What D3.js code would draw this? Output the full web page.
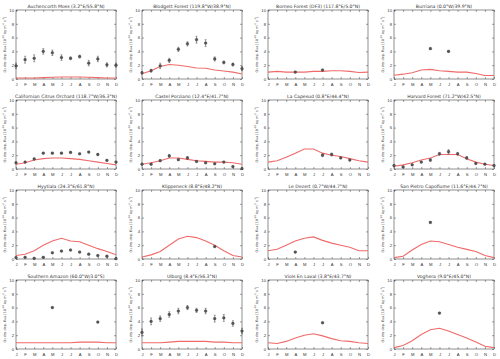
<!DOCTYPE html>
<html>
<head>
<meta charset="utf-8">
<script src="https://cdn.jsdelivr.net/npm/d3@7"></script>
<style>
  body { margin: 0; background: #fff; }
  svg { display: block; font-family: "DejaVu Sans", sans-serif; }
</style>
</head>
<body>
<div id="chart"></div>
<script>
const months = ['J', 'F', 'M', 'A', 'M', 'J', 'J', 'A', 'S', 'O', 'N', 'D'];
const yTicks = [0, 2, 4, 6, 8, 10];

const sites = [
  'Auchencorth Moss (3.2°E/55.8°N)', 'Blodgett Forest (119.8°W/38.9°N)',
  'Borneo Forest (DF3) (117.8°E/5.0°N)', 'Burriana (0.0°W/39.9°N)',
  'Californian Citrus Orchard (118.7°W/36.3°N)', 'Castel Porziano (12.4°E/41.7°N)',
  'La Capesud (0.8°E/44.4°N)', 'Harvard Forest (71.2°W/42.5°N)',
  'Hyytiala (24.3°E/61.8°N)', 'Klippeneck (8.8°E/48.2°N)',
  'Le Dezert (0.7°W/44.7°N)', 'San Pietro Capofiume (11.6°E/44.7°N)',
  'Southern Amazon (60.0°W/3.0°S)', 'Ulborg (8.4°E/56.3°N)',
  'Viols En Laval (3.8°E/43.7°N)', 'Voghera (9.0°E/45.0°N)'
];

// modelled monthly flux (red line)
const model = [
  [0.15, 0.15, 0.15, 0.2, 0.25, 0.3, 0.3, 0.3, 0.25, 0.2, 0.15, 0.15],
  [0.75, 1.2, 1.8, 2.1, 2.0, 1.8, 1.6, 1.55, 1.3, 1.15, 1.0, 0.72],
  [1.0, 1.1, 1.0, 1.0, 1.0, 1.1, 1.1, 1.2, 1.2, 1.1, 0.95, 1.0],
  [0.55, 0.7, 0.9, 1.3, 1.4, 1.2, 1.1, 1.0, 1.0, 0.8, 0.5, 0.5],
  [0.7, 0.9, 1.3, 1.5, 1.6, 1.6, 1.5, 1.4, 1.2, 1.0, 0.8, 0.6],
  [0.7, 0.9, 1.2, 1.6, 1.6, 1.4, 1.2, 1.1, 1.0, 1.0, 0.9, 0.7],
  [1.0, 1.2, 1.7, 2.3, 2.9, 2.9, 2.3, 2.0, 1.8, 1.5, 1.2, 1.0],
  [0.4, 0.6, 0.9, 1.3, 1.6, 2.1, 2.1, 2.1, 1.5, 1.0, 0.7, 0.5],
  [0.5, 0.7, 1.2, 2.0, 2.6, 3.0, 2.6, 2.5, 2.0, 1.5, 1.1, 0.6],
  [0.3, 0.6, 1.1, 2.0, 2.9, 3.3, 3.1, 2.6, 2.0, 1.2, 0.5, 0.3],
  [1.2, 1.4, 2.0, 2.6, 3.0, 3.2, 2.7, 2.3, 2.0, 1.7, 1.2, 1.2],
  [0.2, 0.4, 1.3, 2.1, 2.6, 2.5, 2.1, 1.7, 1.4, 1.1, 0.5, 0.2],
  [0.9, 0.9, 0.9, 0.9, 0.9, 0.9, 0.9, 1.0, 1.0, 1.0, 0.9, 0.9],
  [0.9, 0.9, 0.9, 1.0, 1.1, 1.1, 1.1, 1.1, 1.0, 1.0, 0.9, 0.9],
  [0.9, 0.8, 1.1, 1.6, 2.0, 2.2, 1.9, 1.5, 1.2, 1.1, 0.9, 0.8],
  [0.2, 0.5, 1.2, 2.1, 2.8, 3.0, 2.6, 2.1, 1.6, 1.0, 0.4, 0.2]
];

// observed monthly flux (null = no data)
const obs = [
  [1.9, 2.8, 3.0, 4.0, 3.8, 3.1, 3.0, 3.25, 2.3, 2.9, 2.05, 2.0],
  [0.9, 1.2, 1.9, 2.7, 4.3, 5.1, 5.7, 5.2, 2.9, 2.4, 2.1, 1.5],
  [null, null, null, 1.0, null, null, 1.3, null, null, null, null, null],
  [null, null, null, null, 4.4, null, 4.0, null, null, null, null, null],
  [0.9, 1.0, 1.45, 2.3, 2.3, 2.3, 2.4, 2.2, 2.45, 2.1, 1.25, 1.0],
  [0.7, 0.7, 1.2, 1.9, 1.35, 1.6, 1.1, 0.9, 0.75, 1.0, 0.35, 0.05],
  [null, null, null, null, null, null, 2.0, 2.1, 1.6, 1.3, null, null],
  [0.5, 0.3, 0.6, 1.0, 1.3, 2.2, 2.5, 2.2, 1.6, 0.8, 0.7, 0.5],
  [0.2, 0.25, 0.1, 0.25, 0.9, 1.15, 1.3, 1.0, 0.7, 0.5, 0.4, 0.05],
  [null, null, null, null, null, null, null, null, 1.8, null, null, null],
  [null, null, null, 1.0, null, null, null, null, null, null, null, null],
  [null, null, null, null, 5.3, null, null, null, null, null, null, null],
  [null, null, null, null, 6.0, null, null, null, null, 3.9, null, null],
  [2.4, 4.0, 4.4, 5.0, 5.5, 6.0, 5.6, 5.5, 4.4, 4.5, 3.7, 2.6],
  [null, null, null, null, null, null, 3.8, null, null, null, null, null],
  [null, null, null, null, null, 5.2, null, null, null, null, null, null]
];

// half-width of the error bar on each observation
const obsErr = [
  [0.4, 0.5, 0.5, 0.4, 0.4, 0.4, 0.2, 0.2, 0.4, 0.4, 0.3, 0.3],
  [0.2, 0.2, 0.4, 0.3, 0.3, 0.3, 0.5, 0.5, 0.3, 0.2, 0.2, 0.3],
  [0, 0, 0, 0.1, 0, 0, 0.1, 0, 0, 0, 0, 0],
  [0, 0, 0, 0, 0.1, 0, 0.1, 0, 0, 0, 0, 0],
  [0.1, 0.1, 0.1, 0.1, 0.1, 0.1, 0.1, 0.1, 0.1, 0.1, 0.1, 0.1],
  [0.1, 0.1, 0.1, 0.2, 0.1, 0.2, 0.1, 0.1, 0.1, 0.1, 0.1, 0.1],
  [0, 0, 0, 0, 0, 0, 0.2, 0.2, 0.1, 0.1, 0, 0],
  [0.1, 0.1, 0.1, 0.1, 0.2, 0.2, 0.3, 0.2, 0.2, 0.1, 0.1, 0.1],
  [0.1, 0.1, 0.1, 0.1, 0.1, 0.1, 0.1, 0.1, 0.1, 0.1, 0.1, 0.1],
  [0, 0, 0, 0, 0, 0, 0, 0, 0.1, 0, 0, 0],
  [0, 0, 0, 0.1, 0, 0, 0, 0, 0, 0, 0, 0],
  [0, 0, 0, 0, 0.1, 0, 0, 0, 0, 0, 0, 0],
  [0, 0, 0, 0, 0.1, 0, 0, 0, 0, 0.1, 0, 0],
  [0.5, 0.5, 0.4, 0.4, 0.4, 0.3, 0.3, 0.4, 0.5, 0.5, 0.4, 0.4],
  [0, 0, 0, 0, 0, 0, 0.1, 0, 0, 0, 0, 0],
  [0, 0, 0, 0, 0, 0.1, 0, 0, 0, 0, 0, 0]
];

const [WIDTH, HEIGHT] = [500, 359];
const PLOT_W = 100, PLOT_H = 69;
const COL_X = [16, 142, 268, 394];
const ROW_Y = [10, 100, 190, 280];

const svg = d3.select('#chart').append('svg')
    .attr('width', WIDTH)
    .attr('height', HEIGHT)
    .attr('viewBox', `0 0 ${WIDTH} ${HEIGHT}`);

const x = d3.scaleLinear().domain([0, 11]).range([0, PLOT_W]);
const y = d3.scaleLinear().domain([0, 10]).range([PLOT_H, 0]);

sites.forEach((name, i) => {
    const g = svg.append('g')
        .attr('transform', `translate(${COL_X[i % 4]}, ${ROW_Y[Math.floor(i / 4)]})`);

    // frame
    g.append('rect')
        .attr('width', PLOT_W).attr('height', PLOT_H)
        .attr('fill', 'none').attr('stroke', '#444').attr('stroke-width', 0.6);

    // ticks on all four sides, pointing in
    const ax = d3.axisBottom(x).tickValues(d3.range(12)).tickSize(-2).tickFormat((d) => months[d]);
    const ay = d3.axisLeft(y).tickValues(yTicks).tickSize(-2);
    const axt = d3.axisTop(x).tickValues(d3.range(12)).tickSize(-2).tickFormat('');
    const ayr = d3.axisRight(y).tickValues(yTicks).tickSize(-2).tickFormat('');

    const styleAxis = (sel) => {
        sel.select('.domain').remove();
        sel.selectAll('line').attr('stroke', '#444').attr('stroke-width', 0.5);
        sel.selectAll('text').attr('fill', '#333').attr('font-size', 4.2);
    };
    g.append('g').attr('transform', `translate(0,${PLOT_H})`).call(ax).call(styleAxis)
        .selectAll('text').attr('dy', 0).attr('y', 7);
    g.append('g').call(ay).call(styleAxis)
        .selectAll('text').attr('x', -2);
    g.append('g').call(axt).call(styleAxis);
    g.append('g').attr('transform', `translate(${PLOT_W},0)`).call(ayr).call(styleAxis);

    // y-axis label
    const lab = g.append('text')
        .attr('transform', `translate(-10.5,${PLOT_H / 2}) rotate(-90)`)
        .attr('text-anchor', 'middle')
        .attr('font-size', 3.4)
        .attr('fill', '#333');
    lab.append('tspan').text('O');
    lab.append('tspan').attr('font-size', 2.4).attr('dy', 0.8).text('3');
    lab.append('tspan').attr('dy', -0.8).text(' dry dep. flux [10');
    lab.append('tspan').attr('font-size', 2.4).attr('dy', -1.2).text('-10');
    lab.append('tspan').attr('dy', 1.2).text(' kg m');
    lab.append('tspan').attr('font-size', 2.4).attr('dy', -1.2).text('-2');
    lab.append('tspan').attr('dy', 1.2).text(' s');
    lab.append('tspan').attr('font-size', 2.4).attr('dy', -1.2).text('-1');
    lab.append('tspan').attr('dy', 1.2).text(']');

    // title
    g.append('text')
        .attr('x', PLOT_W / 2).attr('y', -2.5)
        .attr('text-anchor', 'middle')
        .attr('font-size', 4.6)
        .attr('fill', '#333')
        .text(name);

    // model line
    const line = d3.line().x((d, j) => x(j)).y((d) => y(d));
    g.append('path')
        .datum(model[i])
        .attr('d', line)
        .attr('fill', 'none')
        .attr('stroke', '#f06a6a')
        .attr('stroke-width', 1.1);

    // observations with error bars
    const pts = obs[i].map((v, j) => ({ m: j, v: v, e: obsErr[i][j] }))
        .filter((d) => d.v !== null);

    g.selectAll('.err')
        .data(pts.filter((d) => d.e > 0))
        .enter().append('line')
        .attr('x1', (d) => x(d.m)).attr('x2', (d) => x(d.m))
        .attr('y1', (d) => y(d.v - d.e)).attr('y2', (d) => y(d.v + d.e))
        .attr('stroke', '#555').attr('stroke-width', 0.6);
    g.selectAll('.cap')
        .data(pts.filter((d) => d.e > 0).flatMap((d) => [d.v - d.e, d.v + d.e].map((v) => ({ m: d.m, v: v }))))
        .enter().append('line')
        .attr('x1', (d) => x(d.m) - 1).attr('x2', (d) => x(d.m) + 1)
        .attr('y1', (d) => y(d.v)).attr('y2', (d) => y(d.v))
        .attr('stroke', '#555').attr('stroke-width', 0.5);
    g.selectAll('.pt')
        .data(pts)
        .enter().append('circle')
        .attr('cx', (d) => x(d.m)).attr('cy', (d) => y(d.v))
        .attr('r', 1.4)
        .attr('fill', '#555')
        .attr('stroke', '#333')
        .attr('stroke-width', 0.3);
});
</script>
</body>
</html>
